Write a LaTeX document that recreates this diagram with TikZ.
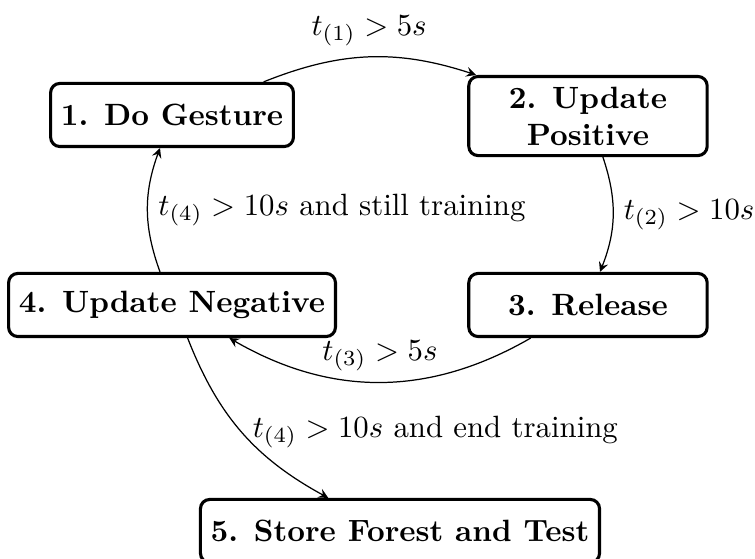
\documentclass[tikz,border=0pt]{standalone}
\usetikzlibrary{calc}

\begin{document}
\begin{tikzpicture}[
  stateblock/.style={draw, line width=1pt, rounded corners=3pt,
    minimum width=2.72cm, minimum height=0.72cm,
    align=center, font=\bfseries},
  trans/.style={-stealth, line width=0.4pt},
]

\useasboundingbox (0,0) rectangle (8.615,-6.378);

% States
\node[stateblock] (gesture)  at (1.963,-1.312) {1. Do Gesture};
\node[stateblock] (positive) at (6.709,-1.324) {2. Update\\Positive};
\node[stateblock] (release)  at (6.709,-3.480) {3. Release};
\node[stateblock] (negative) at (1.963,-3.480) {4. Update Negative};
\node[stateblock] (store)    at (4.564,-6.059) {5. Store Forest and Test};

% Transitions
\draw[trans] (gesture) to[bend left=20]
  node[above] {$t_{(1)} > 5s$} (positive);
\draw[trans] (positive) to[bend left=20]
  node[right] {$t_{(2)} > 10s$} (release);
\draw[trans] (release) to[bend left=30]
  node[above] {$t_{(3)} > 5s$} (negative);
\draw[trans] (negative) to[bend left=20]
  node[right] {$t_{(4)} > 10s$ and still training} (gesture);
\draw[trans] (negative) to[bend right=20]
  node[right] {$t_{(4)} > 10s$ and end training} (store);

\end{tikzpicture}
\end{document}
